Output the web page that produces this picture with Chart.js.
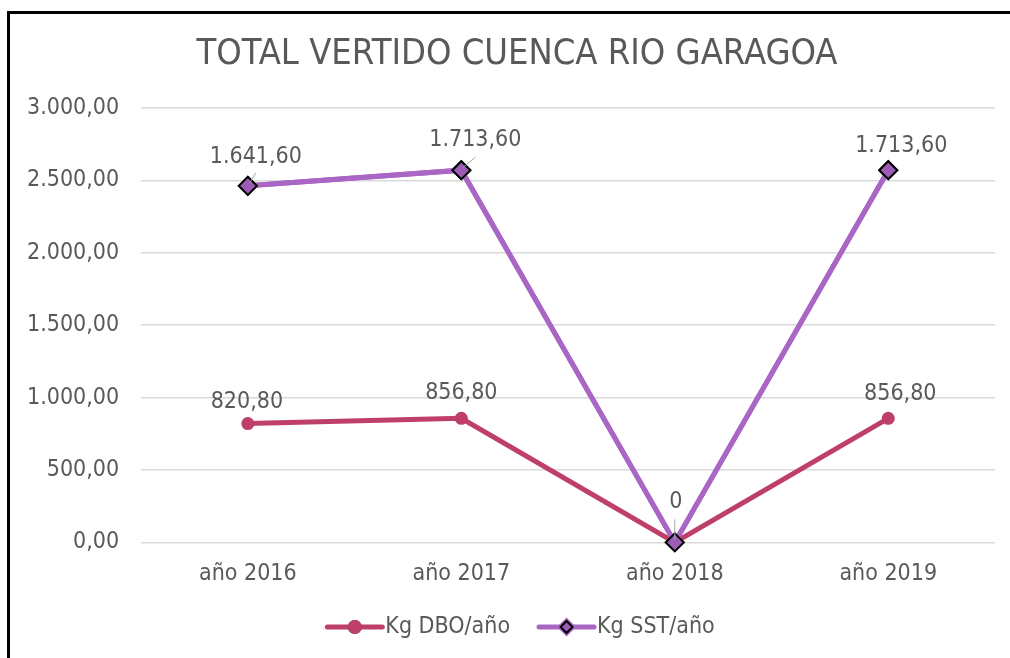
<!DOCTYPE html>
<html>
<head>
<meta charset="utf-8">
<title>Total vertido cuenca Rio Garagoa</title>
<script src="https://cdn.jsdelivr.net/npm/chart.js@4.4.1/dist/chart.umd.min.js"></script>
<style>
  html, body { margin: 0; padding: 0; background: #fff; overflow: hidden; }
  #wrap { position: relative; width: 1010px; height: 658px; overflow: hidden; }
  #frame { position: absolute; left: 7px; top: 11px; width: 1100px; height: 700px;
           border-left: 3px solid #000; border-top: 3px solid #000; }
  #chart { position: absolute; left: 0; top: 0; }
</style>
</head>
<body>
<div id="wrap">
  <div id="frame"></div>
  <canvas id="chart" width="1010" height="658"></canvas>
</div>
<script>
// --- data ---
const chartTitle = 'TOTAL VERTIDO CUENCA RIO GARAGOA';
const years = ['año 2016', 'año 2017', 'año 2018', 'año 2019'];
const dboKg = [820.8, 856.8, 0, 856.8];
const sstKg = [1641.6, 1713.6, 0, 1713.6];
const seriesNames = ['Kg DBO/año', 'Kg SST/año'];
const yMin = 0;
const yMax = 3000;
const yStep = 500;

const textColor = '#595959';
const dboColor = '#BE3F6A';
const sstColor = '#AA66C4';
const sstMarker = '#9C5BB5';
const baseFont = '"DejaVu Sans Condensed"';

// 1641.6 -> "1.641,60"
function fmtNum(v) {
  const parts = Number(v).toFixed(2).split('.');
  return parts[0].replace(/\B(?=(\d{3})+(?!\d))/g, '.') + ',' + parts[1];
}

// label offsets from each point (null = no label), leader lines [x1,y1,x2,y2]
const labelPos = [
  [[-1, -22], [0, -25], null, [12, -24]],
  [[8, -29], [14, -30], [1, -40], [13, -24]]
];
const leaders = [
  [null, null, null, null],
  [[2, -3, 8, -13], [2, -3, 14, -13], [0, -3, 0, -23], null]
];

const labelsPlugin = {
  id: 'pointLabels',
  afterDatasetsDraw(chart) {
    // put the SST series back on top of DBO
    chart.getDatasetMeta(1).controller.draw();
    const ctx = chart.ctx;
    ctx.save();
    ctx.font = '23px ' + baseFont;
    ctx.fillStyle = textColor;
    ctx.textAlign = 'center';
    ctx.textBaseline = 'middle';
    chart.data.datasets.forEach((ds, di) => {
      const meta = chart.getDatasetMeta(di);
      meta.data.forEach((pt, i) => {
        const ld = leaders[di][i];
        if (ld) {
          ctx.strokeStyle = '#A6A6A6';
          ctx.lineWidth = 1;
          ctx.beginPath();
          ctx.moveTo(pt.x + ld[0], pt.y + ld[1]);
          ctx.lineTo(pt.x + ld[2], pt.y + ld[3]);
          ctx.stroke();
        }
        const p = labelPos[di][i];
        if (!p) return;
        const v = ds.data[i];
        ctx.fillText(v === 0 ? '0' : fmtNum(v), pt.x + p[0], pt.y + p[1]);
      });
    });
    ctx.restore();
  }
};

// title and legend drawn by hand so they can sit where the original has them
const frameBits = {
  id: 'frameBits',
  afterDraw(chart) {
    const ctx = chart.ctx;
    ctx.save();
    ctx.fillStyle = textColor;
    ctx.font = '36px ' + baseFont;
    ctx.textAlign = 'center';
    ctx.textBaseline = 'middle';
    ctx.fillText(chartTitle, 517, 55);

    const cy = 627;
    const segW = 55;
    const gap = 29;
    ctx.font = '23px ' + baseFont;
    const w0 = ctx.measureText(seriesNames[0]).width;
    const w1 = ctx.measureText(seriesNames[1]).width;
    const total = segW + 3 + w0 + gap + segW + 3 + w1;
    let x = 521 - total / 2;
    chart.data.datasets.forEach((ds, i) => {
      ctx.strokeStyle = ds.borderColor;
      ctx.lineWidth = 5;
      ctx.lineCap = 'round';
      ctx.beginPath();
      ctx.moveTo(x, cy);
      ctx.lineTo(x + segW, cy);
      ctx.stroke();
      Chart.helpers.drawPoint(ctx, {
        pointStyle: ds.pointStyle,
        radius: i === 0 ? 7 : 6,
        borderWidth: ds.pointBorderWidth
      }, x + segW / 2, cy);
      ctx.fillStyle = ds.pointBackgroundColor;
      ctx.strokeStyle = ds.pointBorderColor;
      ctx.lineWidth = ds.pointBorderWidth;
      ctx.fill();
      if (ds.pointBorderWidth) ctx.stroke();
      ctx.fillStyle = textColor;
      ctx.textAlign = 'left';
      ctx.fillText(seriesNames[i], x + segW + 3, cy);
      x += segW + 3 + (i === 0 ? w0 : w1) + gap;
    });
    ctx.restore();
  }
};

Chart.defaults.font.family = baseFont;
Chart.defaults.color = textColor;

const ctx = document.getElementById('chart').getContext('2d');
const chart = new Chart(ctx, {
  type: 'line',
  data: {
    labels: years,
    datasets: [{
      label: seriesNames[0],
      data: dboKg,
      borderColor: dboColor,
      backgroundColor: dboColor,
      borderWidth: 5,
      pointStyle: 'circle',
      pointRadius: 6.5,
      pointBackgroundColor: dboColor,
      pointBorderColor: dboColor,
      pointBorderWidth: 0,
      tension: 0
    }, {
      label: seriesNames[1],
      data: sstKg,
      borderColor: sstColor,
      backgroundColor: sstColor,
      borderWidth: 5,
      pointStyle: 'rectRot',
      pointRadius: 9,
      pointBackgroundColor: sstMarker,
      pointBorderColor: '#000',
      pointBorderWidth: 2,
      tension: 0
    }]
  },
  options: {
    responsive: false,
    animation: false,
    layout: { padding: { left: 5, right: 15, top: 108, bottom: 60 } },
    plugins: {
      legend: { display: false },
      tooltip: { enabled: false },
      title: { display: false }
    },
    scales: {
      x: {
        offset: true,
        grid: { display: false },
        border: { display: false },
        ticks: { color: textColor, font: { size: 23 }, padding: 10 }
      },
      y: {
        stacked: true,
        min: yMin,
        max: yMax,
        grid: { color: '#D9D9D9', lineWidth: 1.5, drawTicks: false },
        border: { display: false },
        ticks: {
          stepSize: yStep,
          color: textColor,
          font: { size: 23 },
          padding: 22,
          callback: v => fmtNum(v)
        }
      }
    }
  },
  plugins: [labelsPlugin, frameBits]
});
</script>
</body>
</html>
